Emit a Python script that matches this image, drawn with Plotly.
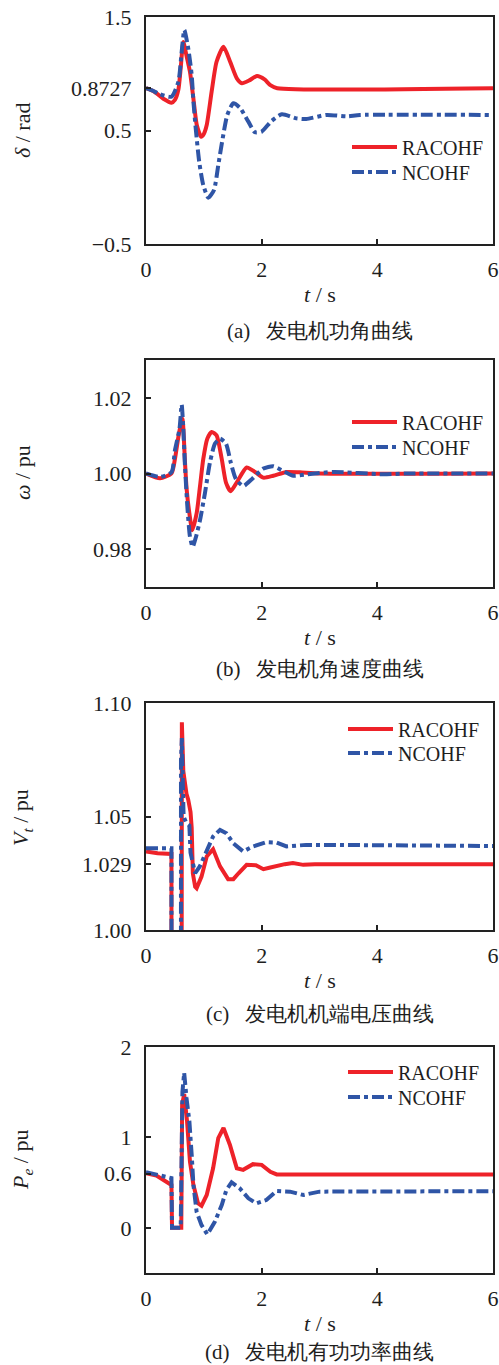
import plotly.graph_objects as go

# ---------------- data ----------------
# (a) rotor angle delta / rad
t_a_r = [0, 0.15, 0.3, 0.44, 0.5, 0.56, 0.6, 0.645, 0.7, 0.76, 0.82, 0.878, 0.953, 1.0, 1.05, 1.135, 1.22, 1.34, 1.455, 1.57, 1.66, 1.78, 1.92, 2.05, 2.15, 2.27, 6]
d_a_r = [0.8727, 0.84, 0.78, 0.745, 0.77, 0.86, 1.05, 1.28, 1.16, 1.018, 0.78, 0.548, 0.445, 0.47, 0.548, 0.842, 1.106, 1.238, 1.106, 0.96, 0.916, 0.94, 0.98, 0.95, 0.90, 0.8727, 0.8727]
t_a_n = [0, 0.12, 0.242, 0.44, 0.56, 0.617, 0.663, 0.73, 0.79, 0.82, 0.865, 0.92, 0.99, 1.078, 1.176, 1.25, 1.326, 1.406, 1.51, 1.625, 1.77, 1.885, 2.0, 2.17, 2.35, 2.6, 2.77, 3.12, 3.47, 3.7, 6]
d_a_n = [0.8727, 0.85, 0.819, 0.798, 0.93, 1.194, 1.385, 1.224, 0.989, 0.754, 0.49, 0.225, 0.02, -0.092, -0.024, 0.196, 0.431, 0.637, 0.74, 0.70, 0.578, 0.484, 0.49, 0.584, 0.643, 0.607, 0.601, 0.637, 0.625, 0.637, 0.637]

# (b) rotor speed omega / pu
t_b_r = [0, 0.242, 0.44, 0.5, 0.56, 0.6, 0.63, 0.674, 0.703, 0.75, 0.80, 0.876, 0.934, 0.99, 1.06, 1.136, 1.22, 1.31, 1.383, 1.464, 1.568, 1.74, 1.885, 2.03, 2.2, 2.43, 2.66, 3.0, 6]
w_b_r = [1.0, 0.99875, 1.0, 1.0038, 1.0097, 1.0128, 1.0145, 1.003, 0.9958, 0.9895, 0.985, 0.9895, 0.9967, 1.0038, 1.0092, 1.011, 1.0101, 1.0038, 0.9976, 0.9953, 0.9976, 1.0016, 1.0004, 0.9989, 0.9994, 1.0004, 1.0003, 1.0, 1.0]
t_b_n = [0, 0.242, 0.44, 0.5, 0.58, 0.617, 0.645, 0.674, 0.715, 0.76, 0.807, 0.865, 0.934, 1.02, 1.107, 1.193, 1.28, 1.383, 1.464, 1.556, 1.683, 1.83, 2.03, 2.2, 2.37, 2.55, 2.8, 3.24, 4.1, 4.5, 6]
w_b_n = [1.0, 0.9991, 1.0003, 1.0061, 1.0119, 1.0182, 1.0119, 1.002, 0.9913, 0.9833, 0.9806, 0.9833, 0.9877, 0.9949, 1.003, 1.0079, 1.0092, 1.0079, 1.003, 0.9985, 0.9967, 0.9985, 1.0013, 1.0019, 1.0007, 0.9994, 0.9998, 1.0004, 0.9998, 1.0, 1.0]

# (c) terminal voltage Vt / pu
t_c_r = [0, 0.2, 0.44, 0.45, 0.6, 0.61, 0.62, 0.645, 0.67, 0.7, 0.73, 0.77, 0.79, 0.81, 0.85, 0.875, 0.96, 1.05, 1.16, 1.22, 1.28, 1.42, 1.51, 1.6, 1.74, 1.9, 2.03, 2.15, 2.26, 2.4, 2.54, 2.72, 2.92, 6]
v_c_r = [1.0346, 1.0338, 1.0335, 0.4, 0.4, 1.09, 1.0915, 1.07, 1.0647, 1.06, 1.0574, 1.052, 1.045, 1.025, 1.019, 1.0184, 1.0235, 1.0324, 1.0356, 1.032, 1.028, 1.0224, 1.0224, 1.025, 1.0287, 1.0285, 1.0268, 1.0275, 1.0282, 1.029, 1.0295, 1.0287, 1.029, 1.029]
t_c_n = [0, 0.44, 0.45, 0.6, 0.605, 0.62, 0.63, 0.65, 0.7, 0.75, 0.77, 0.85, 0.93, 1.05, 1.16, 1.28, 1.39, 1.51, 1.68, 1.85, 2.08, 2.26, 2.43, 2.77, 3.12, 6]
v_c_n = [1.036, 1.036, 0.4, 0.4, 1.075, 1.0846, 1.072, 1.05, 1.047, 1.046, 1.034, 1.025, 1.028, 1.0353, 1.0412, 1.0441, 1.0426, 1.0382, 1.0346, 1.0368, 1.0387, 1.0385, 1.0368, 1.0375, 1.0375, 1.037]

# (d) active power Pe / pu
t_d_r = [0, 0.18, 0.44, 0.45, 0.61, 0.625, 0.66, 0.71, 0.76, 0.82, 0.9, 0.96, 1.05, 1.16, 1.25, 1.34, 1.45, 1.57, 1.68, 1.85, 2.0, 2.15, 2.26, 6]
p_d_r = [0.604, 0.578, 0.474, 0.0, 0.0, 1.363, 1.48, 1.178, 0.733, 0.474, 0.27, 0.244, 0.363, 0.659, 0.993, 1.104, 0.919, 0.659, 0.641, 0.704, 0.696, 0.62, 0.59, 0.59]
t_d_n = [0, 0.24, 0.41, 0.44, 0.45, 0.6, 0.63, 0.66, 0.7, 0.75, 0.79, 0.82, 0.875, 0.96, 1.06, 1.19, 1.31, 1.39, 1.48, 1.62, 1.77, 1.91, 2.08, 2.26, 2.49, 2.72, 3.0, 6]
p_d_n = [0.615, 0.578, 0.548, 0.55, 0.0, 0.0, 1.5, 1.715, 1.437, 1.178, 0.807, 0.474, 0.178, 0.03, -0.074, 0.067, 0.252, 0.419, 0.504, 0.437, 0.326, 0.27, 0.307, 0.407, 0.4, 0.363, 0.4, 0.405]

x_ticks = [0, 2, 4, 6]
y_ticks_a = [-0.5, 0.5, 0.8727, 1.5]
y_text_a = ["−0.5", "0.5", "0.8727", "1.5"]
y_ticks_b = [0.98, 1.00, 1.02]
y_text_b = ["0.98", "1.00", "1.02"]
y_ticks_c = [1.00, 1.029, 1.05, 1.10]
y_text_c = ["1.00", "1.029", "1.05", "1.10"]
y_ticks_d = [0, 0.6, 1, 2]
y_text_d = ["0", "0.6", "1", "2"]

series_names = ["RACOHF", "NCOHF"]
captions = ["(a)   发电机功角曲线", "(b)   发电机角速度曲线", "(c)   发电机机端电压曲线", "(d)   发电机有功功率曲线"]
y_titles = ["<i>δ</i> / rad", "<i>ω</i> / pu", "<i>V</i><sub><i>t</i></sub> / pu", "<i>P</i><sub><i>e</i></sub> / pu"]

# ---------------- style / layout ----------------
W, H = 499, 1365
RED = "#ee2229"
BLUE = "#2f55a6"
TXT = "#1e1e1e"
SERIF = "Liberation Serif"

panels = [
    dict(top=17, bot=244, yr=[-0.5, 1.5], yt=y_ticks_a, ytt=y_text_a, data=(t_a_r, d_a_r, t_a_n, d_a_n), leg=(147, 172), leg_x=347, tit_y=131, cap_b=344, shape="spline"),
    dict(top=360, bot=587, yr=[0.97, 1.03], yt=y_ticks_b, ytt=y_text_b, data=(t_b_r, w_b_r, t_b_n, w_b_n), leg=(422, 447), leg_x=347, tit_y=473, cap_b=682, shape="spline"),
    dict(top=703, bot=930, yr=[1.00, 1.10], yt=y_ticks_c, ytt=y_text_c, data=(t_c_r, v_c_r, t_c_n, v_c_n), leg=(729, 753), leg_x=343, tit_y=818, cap_b=1027, shape="linear"),
    dict(top=1047, bot=1273, yr=[-0.5, 2.0], yt=y_ticks_d, ytt=y_text_d, data=(t_d_r, p_d_r, t_d_n, p_d_n), leg=(1072, 1097), leg_x=343, tit_y=1160, cap_b=1365, shape="linear"),
]

X0, X1 = 146, 493
fig = go.Figure()
layout = dict(
    width=W, height=H, margin=dict(l=0, r=0, t=0, b=0, pad=0, autoexpand=False),
    paper_bgcolor="white", plot_bgcolor="white", showlegend=True,
    font=dict(family=SERIF, size=22, color=TXT),
    annotations=[],
)

for i, p in enumerate(panels):
    k = i + 1
    xa = "x" if k == 1 else f"x{k}"
    ya = "y" if k == 1 else f"y{k}"
    leg_r = "legend" if k == 1 else f"legend{2 * k - 1}"
    leg_n = f"legend{2 * k}"
    tr, vr, tn, vn = p["data"]
    fig.add_trace(go.Scatter(x=tr, y=vr, mode="lines", name=series_names[0], showlegend=True,
                             line=dict(color=RED, width=4, shape=p["shape"], smoothing=0.6),
                             xaxis=xa, yaxis=ya, legend=leg_r))
    fig.add_trace(go.Scatter(x=tn, y=vn, mode="lines", name=series_names[1], showlegend=True,
                             line=dict(color=BLUE, width=4, dash="12px,4px,4px,4px",
                                       shape=p["shape"], smoothing=0.6),
                             xaxis=xa, yaxis=ya, legend=leg_n))
    yd = [1 - p["bot"] / H, 1 - p["top"] / H]
    layout["xaxis" if k == 1 else f"xaxis{k}"] = dict(
        domain=[X0 / W, X1 / W], range=[0, 6], anchor=ya,
        tickvals=x_ticks, ticks="inside", ticklen=5, tickwidth=1.5, tickcolor="#222",
        showline=True, linecolor="#222", linewidth=2, mirror=True,
        showgrid=False, zeroline=False, ticklabelstandoff=5, ticklabeloverflow="allow",
        automargin=False, tickfont=dict(family=SERIF, size=22, color=TXT),
    )
    layout["yaxis" if k == 1 else f"yaxis{k}"] = dict(
        domain=yd, range=p["yr"], anchor=xa,
        tickvals=p["yt"], ticktext=p["ytt"], ticks="inside", ticklen=5, tickwidth=1.5, tickcolor="#222",
        showline=True, linecolor="#222", linewidth=2, mirror=True,
        showgrid=False, zeroline=False, ticklabelstandoff=8, ticklabeloverflow="allow",
        automargin=False, tickfont=dict(family=SERIF, size=22, color=TXT),
    )
    for leg, yc in ((leg_r, p["leg"][0]), (leg_n, p["leg"][1])):
        layout[leg] = dict(
            x=p["leg_x"] / W, y=1 - yc / H, xanchor="left", yanchor="middle",
            bgcolor="rgba(0,0,0,0)", borderwidth=0, itemwidth=45, visible=True,
            font=dict(family=SERIF, size=20, color=TXT),
        )
    xt_y = p["bot"] + 50
    layout["annotations"].append(dict(
        text="<i>t</i> / s", x=(X0 + X1) / 2 / W, y=1 - xt_y / H, xref="paper", yref="paper",
        xanchor="center", yanchor="middle", showarrow=False,
        font=dict(family=SERIF, size=22, color=TXT)))
    layout["annotations"].append(dict(
        text=captions[i], x=(X0 + X1) / 2 / W, y=1 - p["cap_b"] / H, xref="paper", yref="paper",
        xanchor="center", yanchor="bottom", showarrow=False, borderpad=0,
        font=dict(family=SERIF, size=21, color=TXT)))
    layout["annotations"].append(dict(
        text=y_titles[i], x=22 / W, y=1 - p["tit_y"] / H, xref="paper", yref="paper",
        xanchor="center", yanchor="middle", showarrow=False, textangle=-90,
        font=dict(family=SERIF, size=22, color=TXT)))

fig.update_layout(**layout)
fig.write_html("out.html", config={"displayModeBar": False},
               post_script="document.body.style.margin='0';document.body.style.padding='0';document.body.style.overflow='hidden';")
